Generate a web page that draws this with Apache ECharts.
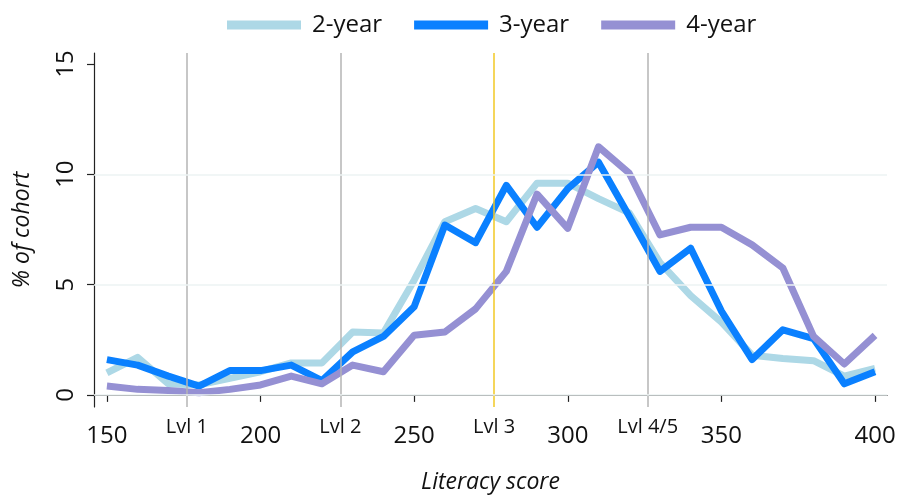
<!DOCTYPE html>
<html>
<head>
    <meta charset="utf-8">
    <title>Literacy score</title>
    <script src="https://cdn.jsdelivr.net/npm/echarts@6/dist/echarts.min.js"></script>
    <style>
        html, body { margin: 0; padding: 0; background: #fff; }
    </style>
</head>
<body>
<div id="main" style="width: 897px;height:496px;"></div>
<script type="text/javascript">
    // data
    const scores = [150, 160, 170, 180, 190, 200, 210, 220, 230, 240, 250, 260, 270,
        280, 290, 300, 310, 320, 330, 340, 350, 360, 370, 380, 390, 400];
    const twoYear = [1.0, 1.7, 0.5, 0.45, 0.75, 1.05, 1.45, 1.45, 2.85, 2.8, 5.2, 7.85, 8.45,
        7.85, 9.6, 9.6, 8.9, 8.25, 6.0, 4.5, 3.3, 1.8, 1.65, 1.55, 0.85, 1.2];
    const threeYear = [1.6, 1.35, 0.85, 0.4, 1.1, 1.1, 1.35, 0.65, 1.95, 2.65, 4.0, 7.7, 6.9,
        9.5, 7.6, 9.35, 10.55, 8.1, 5.6, 6.65, 3.8, 1.6, 2.95, 2.55, 0.5, 1.05];
    const fourYear = [0.4, 0.25, 0.2, 0.1, 0.25, 0.45, 0.85, 0.5, 1.35, 1.05, 2.7, 2.85, 3.9,
        5.6, 9.1, 7.55, 11.25, 10.05, 7.25, 7.6, 7.6, 6.8, 5.75, 2.65, 1.4, 2.7];
    const xTicks = [150, 200, 250, 300, 350, 400];
    const yTicks = [0, 5, 10, 15];
    const levels = [176, 226, 276, 326];
    const levelNames = ['Lvl 1', 'Lvl 2', 'Lvl 3', 'Lvl 4/5'];

    const FONT = 'Open Sans';

    function pairs(vals) {
        return scores.map(function (s, i) { return [s, vals[i]]; });
    }

    let myChart = echarts.init(document.getElementById('main'));

    // level lines (vertical) and light grid (horizontal)
    let markData = levels.map(function (v, i) {
        return {
            xAxis: v,
            lineStyle: { color: i === 2 ? '#f2c824' : '#b5b5b5' },
            label: { formatter: levelNames[i] }
        };
    });
    let gridData = [0, 5, 10].map(function (v) { return { yAxis: v }; });

    function lineSeries(name, vals, color) {
        return {
            name: name,
            type: 'line',
            data: pairs(vals),
            showSymbol: false,
            z: 3,
            lineStyle: { color: color, width: 7, join: 'round' },
            itemStyle: { color: color }
        };
    }

    myChart.setOption({
        animation: false,
        grid: { left: 94, right: 10, top: 53, bottom: 89, outerBoundsMode: 'none' },
        legend: {
            left: 222,
            top: 8,
            icon: 'rect',
            itemWidth: 74,
            itemHeight: 9,
            itemGap: 32,
            textStyle: { fontFamily: FONT, fontSize: 24, color: '#111', padding: [0, 0, 0, 6] },
            data: ['2-year', '3-year', '4-year']
        },
        xAxis: {
            type: 'value',
            min: 145.8,
            max: 403.9,
            name: 'Literacy score',
            nameLocation: 'middle',
            nameGap: 64,
            nameTextStyle: { fontFamily: FONT, fontSize: 23, fontStyle: 'italic', color: '#111' },
            axisLine: { show: true, lineStyle: { color: '#222', width: 1.2 } },
            axisTick: { show: true, length: 7, customValues: xTicks, lineStyle: { color: '#222', width: 1.2 } },
            axisLabel: { customValues: xTicks, margin: 17, fontFamily: FONT, fontSize: 24, color: '#111' },
            splitLine: { show: false }
        },
        yAxis: {
            type: 'value',
            min: -0.55,
            max: 15.5,
            name: '% of cohort',
            nameLocation: 'middle',
            nameGap: 60,
            nameTextStyle: { fontFamily: FONT, fontSize: 23, fontStyle: 'italic', color: '#111' },
            axisLine: { show: true, lineStyle: { color: '#222', width: 1.2 } },
            axisTick: { show: true, length: 7, customValues: yTicks, lineStyle: { color: '#222', width: 1.2 } },
            axisLabel: { customValues: yTicks, rotate: 90, margin: 16, fontFamily: FONT, fontSize: 24, color: '#111' },
            splitLine: { show: false }
        },
        series: [
            {
                name: 'guides',
                type: 'line',
                data: [],
                z: 1,
                silent: true,
                markLine: {
                    silent: true,
                    symbol: 'none',
                    animation: false,
                    lineStyle: { type: 'solid', width: 1.5, color: '#b5b5b5' },
                    label: {
                        position: 'start',
                        distance: 10,
                        fontFamily: FONT,
                        fontSize: 20,
                        color: '#111'
                    },
                    data: markData
                }
            },
            {
                name: 'grid',
                type: 'line',
                data: [],
                z: 0,
                silent: true,
                markLine: {
                    silent: true,
                    symbol: 'none',
                    animation: false,
                    label: { show: false },
                    lineStyle: { type: 'solid', width: 1.5, color: '#edf3f3' },
                    data: gridData
                }
            },
            lineSeries('2-year', twoYear, '#add8e6'),
            lineSeries('3-year', threeYear, '#0a80ff'),
            lineSeries('4-year', fourYear, '#9590d3')
        ]
    });
</script>
</body>
</html>
